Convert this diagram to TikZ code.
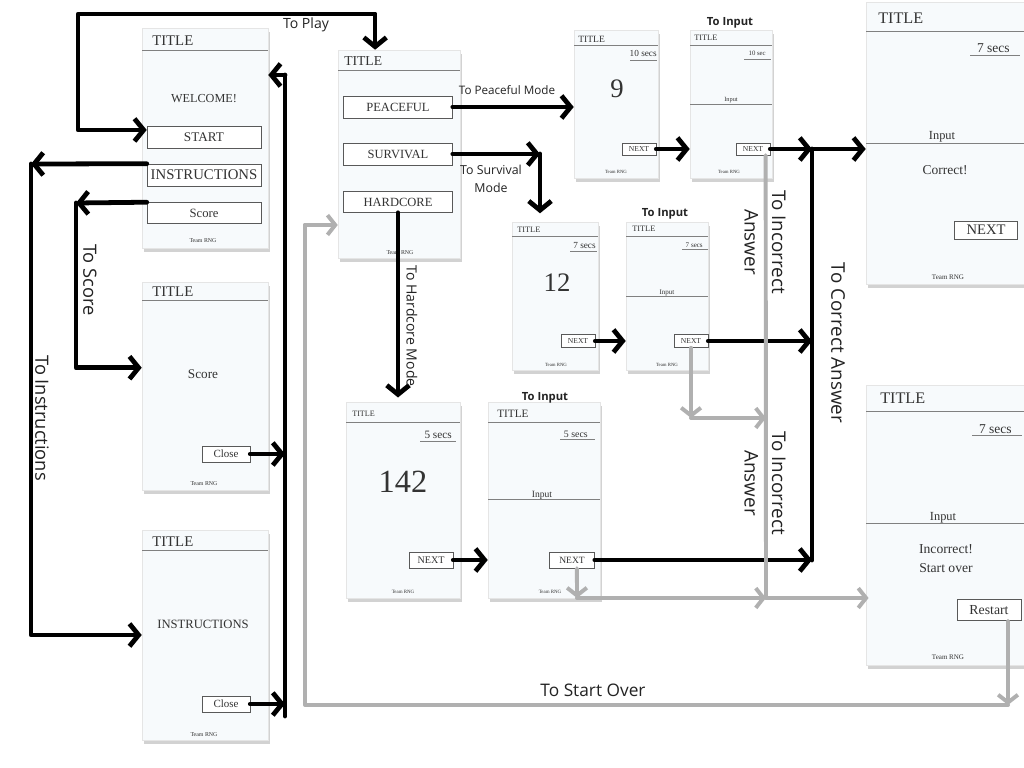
\documentclass[tikz,border=0pt]{standalone}
\usepackage{fontspec}
\usepackage{xcolor}
\usepackage{tikz}
\setmainfont{Liberation Serif}
\newfontfamily\lblfont{Open Sans}
\usetikzlibrary{arrows.meta,shadows}
\definecolor{panelbg}{RGB}{247,250,252}
\definecolor{lgray}{RGB}{176,176,176}
\definecolor{ink}{RGB}{35,35,35}
\newcommand{\fsz}[1]{\fontsize{#1}{\fpeval{1.45*#1}}\selectfont}

\begin{document}
\begin{tikzpicture}[x=0.025cm,y=-0.025cm,
  chev/.tip={Straight Barb[length=6.5pt,width=16pt]},
  gchev/.tip={Straight Barb[length=5.5pt,width=14pt]},
  panel/.style={draw=black!10,fill=panelbg,inner sep=0pt,
    drop shadow={shadow xshift=1.2pt,shadow yshift=-3pt,opacity=.35}},
  dims/.style 2 args={minimum width=#1*0.025cm,minimum height=#2*0.025cm},
  txt/.style={font=\fsz{#1},text=black!80,inner sep=0pt},
  btn/.style={font=\fsz{#1},draw=black!65,fill=white,text=black!80,inner sep=0pt},
  tline/.style={draw=black!50,line width=0.6pt},
  lbl/.style={font=\lblfont\fsz{#1},text=ink,inner sep=0pt},
  blk/.style={line width=3.4pt,line cap=round,line join=round},
  arr/.style={blk,-chev},
  gry/.style={draw=lgray,line width=2.8pt,line cap=round,line join=round},
  garr/.style={gry,-gchev}]
  \useasboundingbox (0,0) rectangle (1024,768);
  \clip (0,0) rectangle (1024,768);
  \fill[white] (0,0) rectangle (1024,768);

  % welcome screen
  \node[panel,dims={126}{220}] (welcome) at (205,138) {};
  \node[txt=10.5,anchor=west] (wtitle) at (152,41) {TITLE};
  \draw[tline] (142,50) -- (268,50);
  \node[txt=8.7] (wmsg) at (204,99) {WELCOME!};
  \node[btn=9.4,dims={114}{22}] (startbtn) at (204,137) {START};
  \node[btn=10.5,dims={114}{22},text depth=-1pt] (instrbtn) at (204,175) {INSTRUCTIONS};
  \node[btn=9,dims={114}{21},text depth=-1pt] (scorebtn) at (204,213) {Score};
  \node[txt=4.2] (wteam) at (203,241) {Team RNG};

  % mode screen
  \node[panel,dims={122}{208}] (mode) at (399,154) {};
  \node[txt=9.7,anchor=west] (mtitle) at (344,61) {TITLE};
  \draw[tline] (338,70) -- (460,70);
  \node[btn=8.9,dims={109}{22}] (peacebtn) at (398,107) {PEACEFUL};
  \node[btn=8.9,dims={109}{22}] (survbtn) at (398,154) {SURVIVAL};
  \node[btn=8.9,dims={109}{21}] (hardbtn) at (398,202) {HARDCORE};
  \node[txt=4.2] (mteam) at (400,253) {Team RNG};

  % score screen
  \node[panel,dims={126}{208}] (score) at (205,386) {};
  \node[txt=10.5,anchor=west] (stitle) at (152,292) {TITLE};
  \draw[tline] (142,300) -- (268,300);
  \node[txt=9.4] (smsg) at (203,374) {Score};
  \node[btn=7.8,dims={48}{16}] (closeS) at (226,454) {Close};
  \node[txt=4.2] (steam) at (204,484) {Team RNG};

  % instructions screen
  \node[panel,dims={126}{210}] (instr) at (205,635) {};
  \node[txt=10.5,anchor=west] (ititle) at (152,542) {TITLE};
  \draw[tline] (142,550) -- (268,550);
  \node[txt=9] (imsg) at (203,624) {INSTRUCTIONS};
  \node[btn=7.8,dims={48}{16}] (closeI) at (226,704) {Close};
  \node[txt=4.2] (iteam) at (204,735) {Team RNG};

  % peaceful: number + input
  \node[panel,dims={84}{148}] (pnum) at (616,104) {};
  \node[txt=6.8,anchor=west] (pntitle) at (578,39) {TITLE};
  \draw[tline] (574,45) -- (658,45);
  \node[txt=6.6,anchor=base east] (pnsecs) at (657,57) {10 secs};
  \draw[tline] (630,60) -- (657,60);
  \node[txt=19] (pndigit) at (617,89) {9};
  \node[btn=5.4,dims={34}{12}] (nextP) at (639,149) {NEXT};
  \node[txt=3.4] (pnteam) at (616,172) {Team RNG};

  \node[panel,dims={82}{148}] (pinp) at (731,104) {};
  \node[txt=5.9,anchor=west] (pititle) at (694,38) {TITLE};
  \draw[tline] (690,45) -- (772,45);
  \node[txt=4.8,anchor=base east] (pisecs) at (766,56) {10 sec};
  \draw[tline] (744,59) -- (771,59);
  \node[txt=4.5,anchor=base] (piinput) at (731,102) {Input};
  \draw[tline] (690,104) -- (772,104);
  \node[btn=5.4,dims={34}{12}] (nextPI) at (753,149) {NEXT};
  \node[txt=3.4] (piteam) at (729,172) {Team RNG};
  \node[lbl=8,font=\lblfont\bfseries\fsz{8}] (pto) at (730,23) {To Input};

  % survival: number + input
  \node[panel,dims={86}{148}] (snum) at (555,296) {};
  \node[txt=5.9,anchor=west] (sntitle) at (517,230) {TITLE};
  \draw[tline] (512,236) -- (598,236);
  \node[txt=6.6,anchor=base east] (snsecs) at (596,248) {7 secs};
  \draw[tline] (570,251) -- (597,251);
  \node[txt=19] (sndigit) at (557,283) {12};
  \node[btn=5.4,dims={34}{13}] (nextS) at (578,341) {NEXT};
  \node[txt=3.4] (snteam) at (556,365) {Team RNG};

  \node[panel,dims={82}{148}] (sinp) at (667,296) {};
  \node[txt=5.9,anchor=west] (sititle) at (632,229) {TITLE};
  \draw[tline] (626,236) -- (708,236);
  \node[txt=5,anchor=base east] (sisecs) at (703,247) {7 secs};
  \draw[tline] (682,249) -- (708,249);
  \node[txt=5,anchor=base] (siinput) at (667,294) {Input};
  \draw[tline] (626,296) -- (708,296);
  \node[btn=5.4,dims={34}{13}] (nextSI) at (691,341) {NEXT};
  \node[txt=3.4] (siteam) at (667,365) {Team RNG};
  \node[lbl=8,font=\lblfont\bfseries\fsz{8}] (sto) at (665,214) {To Input};

  % hardcore: number + input
  \node[panel,dims={114}{196}] (hnum) at (403,500) {};
  \node[txt=5.8,anchor=west] (hntitle) at (352,414) {TITLE};
  \draw[tline] (346,422) -- (460,422);
  \node[txt=8,anchor=base east] (hnsecs) at (452,438) {5 secs};
  \draw[tline] (420,441) -- (456,441);
  \node[txt=23] (hndigit) at (403,482) {142};
  \node[btn=7.2,dims={44}{16}] (nextH) at (431,560) {NEXT};
  \node[txt=3.5] (hnteam) at (403,592) {Team RNG};

  \node[panel,dims={112}{196}] (hinp) at (544,500) {};
  \node[txt=8,anchor=west] (hititle) at (497,414) {TITLE};
  \draw[tline] (488,422) -- (600,422);
  \node[txt=7,anchor=base east] (hisecs) at (588,437) {5 secs};
  \draw[tline] (560,439) -- (595,439);
  \node[txt=6.8,anchor=base] (hiinput) at (542,497) {Input};
  \draw[tline] (488,499) -- (600,499);
  \node[btn=6.8,dims={45}{16}] (nextHI) at (572,560) {NEXT};
  \node[txt=3.5] (hiteam) at (550,592) {Team RNG};
  \node[lbl=8,font=\lblfont\bfseries\fsz{8}] (hto) at (545,398) {To Input};

  % result screens
  \node[panel,dims={164}{282}] (correct) at (948,143) {};
  \node[txt=11.5,anchor=west] (ctitle) at (878,18) {TITLE};
  \draw[tline] (866,31) -- (1030,31);
  \node[txt=9.6,anchor=base east] (csecs) at (1010,53) {7 secs};
  \draw[tline] (970,55) -- (1020,55);
  \node[txt=8.8,anchor=base] (cinput) at (942,140) {Input};
  \draw[tline] (866,143) -- (1030,143);
  \node[txt=9.6] (cmsg) at (945,170) {Correct!};
  \node[btn=10.4,dims={63}{18}] (nextC) at (986,230) {NEXT};
  \node[txt=5] (cteam) at (948,277) {Team RNG};

  \node[panel,dims={164}{280}] (wrong) at (948,525) {};
  \node[txt=11.5,anchor=west] (rtitle) at (880,398) {TITLE};
  \draw[tline] (866,411) -- (1030,411);
  \node[txt=9.6,anchor=base east] (rsecs) at (1012,433) {7 secs};
  \draw[tline] (972,435) -- (1022,435);
  \node[txt=8.8,anchor=base] (rinput) at (943,520) {Input};
  \draw[tline] (866,523) -- (1030,523);
  \node[txt=9.7] (rmsg) at (946,549) {Incorrect!};
  \node[txt=9.7] (rmsg2) at (946,568) {Start over};
  \node[btn=9.8,dims={64}{21}] (restart) at (989,610) {Restart};
  \node[txt=5] (rteam) at (948,657) {Team RNG};

  % left side: play, instructions, score, back
  \draw[blk,chev-chev] ([yshift=5pt]startbtn.west) -| (78,14) -| ([xshift=-17pt]mode.north);
  \node[lbl=10] (lplay) at (306,25) {To Play};
  \coordinate (ibend) at (31,164);
  \draw[arr] (instrbtn.north west) -- (ibend);
  \draw[arr] (ibend) |- (instr.west);
  \node[lbl=13,rotate=-90] (linstr) at (42,418) {To Instructions};
  \coordinate (sbend) at (76,203);
  \draw[arr] (scorebtn.north west) -- (sbend);
  \draw[arr] (sbend) |- ([yshift=13pt]score.west);
  \node[lbl=13,rotate=-90] (lscore) at (90,280) {To Score};
  \coordinate (rtop) at (285,75);
  \coordinate (rbot) at (285,716);
  \draw[blk] (rbot) -- (rtop);
  \draw[arr] (rtop) -- (rtop -| welcome.east);
  \draw[arr] (closeS.east) -- (closeS.east -| rtop);
  \draw[arr] (closeI.east) -- (closeI.east -| rtop);

  % modes
  \draw[arr] (peacebtn.east) -- (peacebtn.east -| pnum.west);
  \node[lbl=8.3] (lpeace) at (507,90) {To Peaceful Mode};
  \coordinate (sv) at (540,154);
  \draw[arr] (survbtn.east) -- (sv);
  \draw[arr] (sv) -- ([yshift=6pt]sv |- snum.north);
  \node[lbl=8.8,align=center] (lsurv) at (491,179) {To Survival\\Mode};
  \draw[arr] (hardbtn.south) -- ([yshift=3pt]hardbtn.south |- hnum.north);
  \node[lbl=10,rotate=-90] (lhard) at (412,326) {To Hardcore Mode};

  % next buttons
  \draw[arr] (nextP.east) -- (nextP.east -| pinp.west);
  \draw[arr] (nextS.east) -- (nextS.east -| sinp.west);
  \draw[arr] (nextH.east) -- (nextH.east -| hinp.west);

  % correct answer
  \coordinate (cx) at (812,149);
  \draw[blk] (cx) -- (cx |- nextHI.east);
  \draw[arr] (nextPI.east) -- (cx);
  \draw[arr] (cx) -- (cx -| correct.west);
  \draw[arr] (nextSI.east) -- (nextSI.east -| cx);
  \draw[arr] (nextHI.east) -- (nextHI.east -| cx);
  \node[lbl=13.4,rotate=-90] (lcorrect) at (838,343) {To Correct Answer};

  % incorrect answer
  \coordinate (gx) at (766,598);
  \coordinate (gh) at (577,598);
  \coordinate (gs) at (691,418);
  \draw[gry] ([xshift=9pt]nextPI.south) -- (gx);
  \draw[garr] ([xshift=3.5pt]nextHI.south) -- (gh);
  \draw[garr] (gh) -- (gx);
  \draw[garr] (gx) -- ([xshift=2pt]gx -| wrong.west);
  \draw[garr] (nextSI.south) -- (gs);
  \draw[garr] (gs) -- (gs -| gx);
  \node[lbl=13.4,rotate=-90,align=center] (lwrong) at (765,242) {To Incorrect\\Answer};
  \node[lbl=13.4,rotate=-90,align=center] (lwrong2) at (765,483) {To Incorrect\\Answer};

  % start over
  \coordinate (ob) at (1008,705);
  \coordinate (ol) at (305,705);
  \coordinate (ot) at (305,225);
  \draw[garr] ([xshift=13.5pt]restart.south) -- (ob);
  \draw[gry] (ob) -- (ol) -- (ot);
  \draw[garr] (ot) -- (ot -| mode.west);
  \node[lbl=12.3] (lover) at (593,690) {To Start Over};
\end{tikzpicture}
\end{document}
